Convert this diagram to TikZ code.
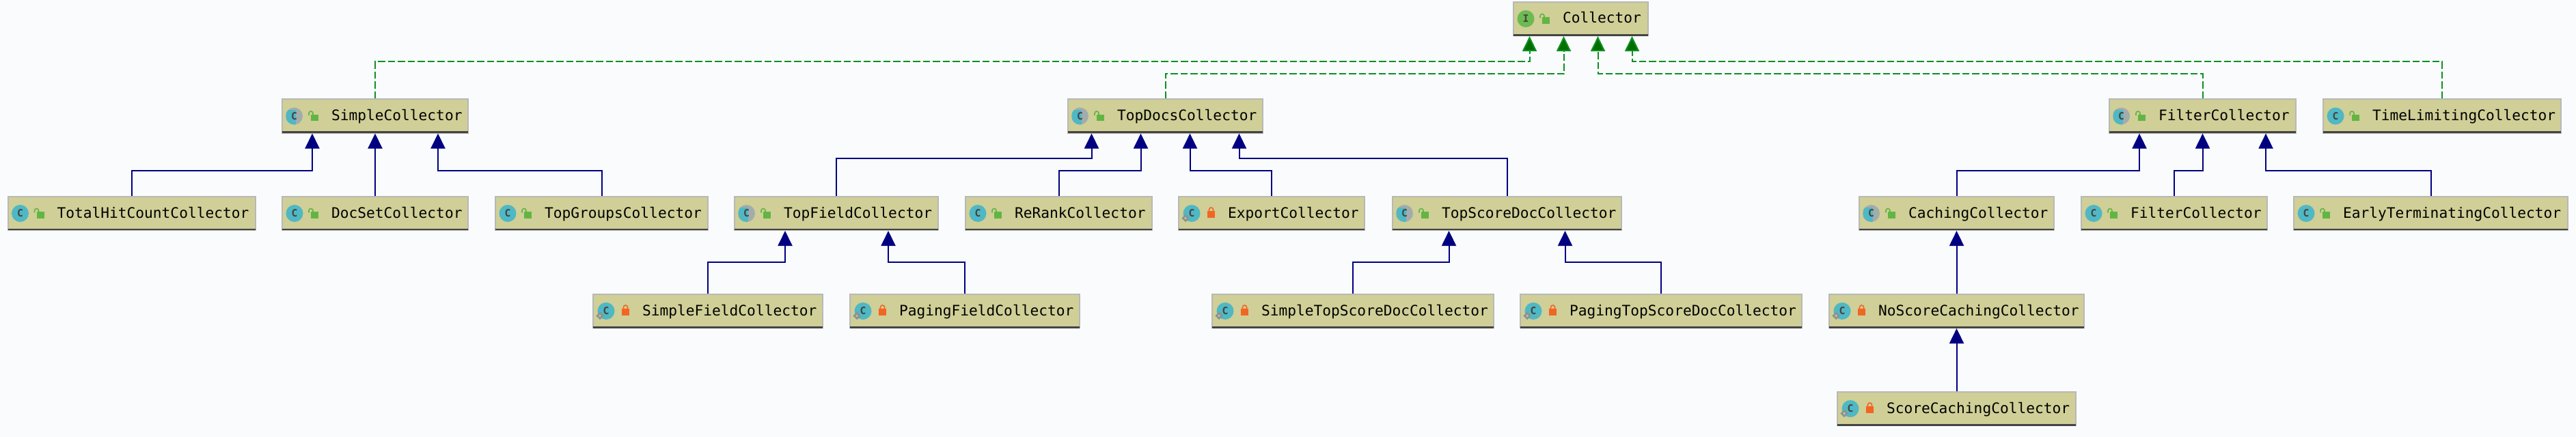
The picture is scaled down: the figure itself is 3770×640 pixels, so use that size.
\documentclass[tikz,border=0pt]{standalone}
\usepackage{fontspec}
\usepackage{xcolor}
\usepackage{tikz}
\usetikzlibrary{shapes.geometric, arrows.meta, calc}

\newfontfamily\umlfont{DejaVu Sans Mono}
\newfontfamily\umliconfont{DejaVu Sans Mono Bold}

\definecolor{pagebg}{HTML}{F9FBFD}
\definecolor{boxfill}{HTML}{CFCF97}
\definecolor{boxedge}{HTML}{B8B8B8}
\definecolor{boxbar}{HTML}{444444}
\definecolor{iconteal}{HTML}{4FB8C4}
\definecolor{icongreen}{HTML}{6CBB50}
\definecolor{icongray}{HTML}{A3ACAC}
\definecolor{lockgreen}{HTML}{62B543}
\definecolor{lockorange}{HTML}{F26522}
\definecolor{extblue}{HTML}{000080}
\definecolor{implline}{HTML}{0E8F22}
\definecolor{impltip}{HTML}{006F00}

\tikzset{
  classbox/.style={rectangle, draw=boxedge, fill=boxfill, line width=0.02cm, outer sep=0.01cm,
                   minimum height=0.49cm, inner xsep=0pt, inner ysep=0pt, align=left,
                   text height=0.2cm, text depth=0.07cm, font=\umlfont\fontsize{6.03}{7}\selectfont},
  iconbadge/.style={circle, minimum size=0.25cm, inner sep=0pt, text=boxbar,
                    font=\umliconfont\fontsize{4.2}{5}\selectfont},
  finalmark/.style={diamond, draw=icongray!85!black, fill=icongray!40!boxfill, line width=0.025cm,
                    minimum size=0.09cm, inner sep=0pt},
  ext/.style={-{Triangle[length=0.22cm,width=0.21cm,fill=extblue]}, draw=extblue, line width=0.02cm},
  impl/.style={-{Triangle[length=0.22cm,width=0.21cm,fill=impltip]}, draw=implline, line width=0.02cm,
               dash pattern=on 0.105cm off 0.04cm}
}

\newcommand{\barwidth}{0.03cm}

% name, centre x, width, centre y, label, kind of icon
\newcommand{\umlbox}[6]{
  \node[classbox, minimum width=#3*0.01cm-0.02cm, text width=#3*0.01cm-0.02cm] (#1) at (#2,#4) {\hspace*{0.72cm}#5};
  \draw[boxbar, line width=\barwidth] ($(#1.south west)+(1,-2)$) -- ($(#1.south east)+(-1,-2)$);
  \csname icon#6\endcsname{#1}
}
\newcommand{\iconplain}[1]{
  \node[iconbadge, fill=iconteal] (#1-icon) at ($(#1.west)+(19,0)$) {C};
  \lockopen{#1}
}
\newcommand{\iconabstract}[1]{
  \node[iconbadge, fill=icongray, path picture={\fill[iconteal] (-7,-14) rectangle (7,14);}] (#1-icon) at ($(#1.west)+(18.5,0)$) {C};
  \lockopen{#1}
}
\newcommand{\iconfinal}[1]{
  \node[iconbadge, fill=iconteal] (#1-icon) at ($(#1.west)+(20,0)$) {C};
  \node[finalmark] (#1-mark) at ($(#1.west)+(11,7)$) {};
  \lockclosed{#1}
}
\newcommand{\iconiface}[1]{
  \node[iconbadge, fill=icongreen] (#1-icon) at ($(#1.west)+(19,0)$) {I};
  \lockopen{#1}
}
\newcommand{\lockopen}[1]{
  \fill[lockgreen] ($(#1.west)+(43,-2)$) rectangle ($(#1.west)+(54,7.5)$);
  \draw[lockgreen, line width=0.016cm] ($(#1.west)+(40,-1)$) -- ($(#1.west)+(40,-4)$) arc (180:360:3) -- ($(#1.west)+(46,-2)$);
}
\newcommand{\lockclosed}[1]{
  \fill[lockorange] ($(#1.west)+(43,-3.5)$) rectangle ($(#1.west)+(54,6.5)$);
  \draw[lockorange, line width=0.016cm] ($(#1.west)+(45.5,-3.5)$) -- ($(#1.west)+(45.5,-5.5)$) arc (180:360:3) -- ($(#1.west)+(51.5,-3.5)$);
}

\begin{document}
\begin{tikzpicture}[x=0.01cm, y=-0.01cm]
  \fill[pagebg] (0,0) rectangle (3770,640);

  \umlbox{collector}{2313.5}{199}{27.5}{Collector}{iface}

  % First level
  \umlbox{simple}{549}{274}{170}{SimpleCollector}{abstract}
  \umlbox{topdocs}{1705.5}{287}{170}{TopDocsCollector}{abstract}
  \umlbox{filterbase}{3223.5}{275}{170}{FilterCollector}{abstract}
  \umlbox{timelimit}{3574}{350}{170}{TimeLimitingCollector}{plain}

  % Second level
  \renewcommand{\barwidth}{0.018cm}
  \umlbox{totalhit}{192.5}{364}{312.5}{TotalHitCountCollector}{plain}
  \umlbox{docset}{549}{274}{312.5}{DocSetCollector}{plain}
  \umlbox{topgroups}{880.5}{313}{312.5}{TopGroupsCollector}{plain}
  \umlbox{topfield}{1224}{300}{312.5}{TopFieldCollector}{abstract}
  \umlbox{rerank}{1549.5}{275}{312.5}{ReRankCollector}{plain}
  \umlbox{export}{1861}{274}{312.5}{ExportCollector}{final}
  \umlbox{topscore}{2205.5}{337}{312.5}{TopScoreDocCollector}{abstract}
  \umlbox{caching}{2863.5}{287}{312.5}{CachingCollector}{abstract}
  \umlbox{filterleaf}{3182}{274}{312.5}{FilterCollector}{plain}
  \umlbox{early}{3557.5}{403}{312.5}{EarlyTerminatingCollector}{plain}

  % Third and fourth level
  \renewcommand{\barwidth}{0.03cm}
  \umlbox{simplefield}{1036}{338}{455.5}{SimpleFieldCollector}{final}
  \umlbox{pagingfield}{1412}{338}{455.5}{PagingFieldCollector}{final}
  \umlbox{simpletop}{1980}{414}{455.5}{SimpleTopScoreDocCollector}{final}
  \umlbox{pagingtop}{2431}{414}{455.5}{PagingTopScoreDocCollector}{final}
  \umlbox{noscore}{2863.5}{375}{455.5}{NoScoreCachingCollector}{final}
  \umlbox{scorecaching}{2863.5}{351}{598.5}{ScoreCachingCollector}{final}

  % Dashed links up to the interface
  \draw[impl] (simple.north) -- ++(0,-54) -| ($(collector.south)+(-75,0)$);
  \draw[impl] (topdocs.north) -- ++(0,-36) -| ($(collector.south)+(-25,0)$);
  \draw[impl] (filterbase.north) -- ++(0,-36) -| ($(collector.south)+(25,0)$);
  \draw[impl] (timelimit.north) -- ++(0,-54) -| ($(collector.south)+(75,0)$);

  \draw[ext] (totalhit.north) -- ++(0,-37) -| ($(simple.south)+(-92,0)$);
  \draw[ext] (docset.north) -- (simple.south);
  \draw[ext] (topgroups.north) -- ++(0,-37) -| ($(simple.south)+(92,0)$);

  \draw[ext] (topfield.north) -- ++(0,-55) -| ($(topdocs.south)+(-108,0)$);
  \draw[ext] (rerank.north) -- ++(0,-37) -| ($(topdocs.south)+(-36,0)$);
  \draw[ext] (export.north) -- ++(0,-37) -| ($(topdocs.south)+(36,0)$);
  \draw[ext] (topscore.north) -- ++(0,-55) -| ($(topdocs.south)+(108,0)$);

  \draw[ext] (simplefield.north) -- ++(0,-46) -| ($(topfield.south)+(-75,0)$);
  \draw[ext] (pagingfield.north) -- ++(0,-46) -| ($(topfield.south)+(76,0)$);
  \draw[ext] (simpletop.north) -- ++(0,-46) -| ($(topscore.south)+(-85,0)$);
  \draw[ext] (pagingtop.north) -- ++(0,-46) -| ($(topscore.south)+(85,0)$);

  \draw[ext] (caching.north) -- ++(0,-37) -| ($(filterbase.south)+(-92.5,0)$);
  \draw[ext] (filterleaf.north) -- ++(0,-37) -| (filterbase.south);
  \draw[ext] (early.north) -- ++(0,-37) -| ($(filterbase.south)+(92.5,0)$);

  \draw[ext] (noscore.north) -- (caching.south);
  \draw[ext] (scorecaching.north) -- (noscore.south);
\end{tikzpicture}
\end{document}
